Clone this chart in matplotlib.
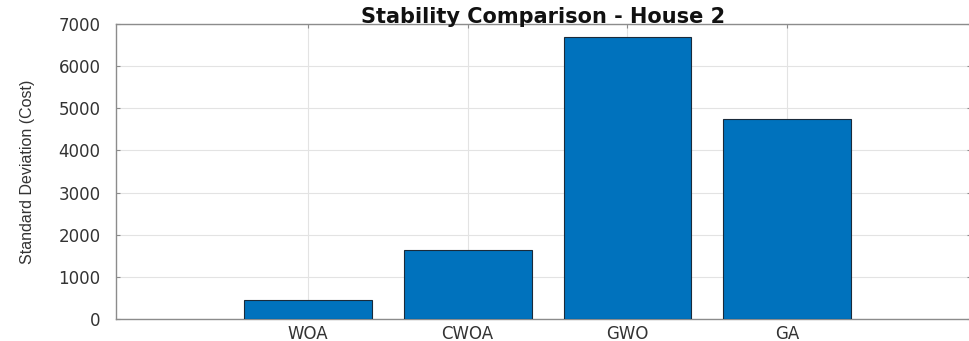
import numpy as np
import matplotlib
matplotlib.use('Agg')
import matplotlib.pyplot as plt

# Standard deviation of the cost per optimiser, house 2
algorithms = ['WOA', 'CWOA', 'GWO', 'GA']
std_cost = [450, 1640, 6700, 4750]
y_ticks = [0, 1000, 2000, 3000, 4000, 5000, 6000, 7000]

bar_color = '#0072BD'
axis_gray = '#8c8c8c'

fig = plt.figure(figsize=(9.69, 3.41), dpi=100)
ax = fig.add_axes([0.1197, 0.0645, 0.8825, 0.8651])

x = np.arange(1, len(algorithms) + 1)
ax.bar(x, std_cost, width=0.8, color=bar_color, edgecolor='#1a2a3a', linewidth=0.8, zorder=3)

ax.set_xlim(-0.2, 5.15)
ax.set_ylim(0, 7000)
ax.set_xticks(x)
ax.set_xticklabels(algorithms)
ax.set_yticks(y_ticks)

ax.grid(True, color='#e3e3e3', linewidth=0.8, zorder=0)
ax.tick_params(direction='in', length=3, color=axis_gray, labelcolor='#333333',
               labelsize=12, top=True, right=True)
ax.tick_params(axis='y', pad=11)
ax.tick_params(axis='x', pad=4)
for lbl in ax.get_xticklabels() + ax.get_yticklabels():
    lbl.set_family('DejaVu Sans')

for side in ax.spines.values():
    side.set_color(axis_gray)
    side.set_linewidth(1.0)

ax.set_ylabel('Standard Deviation (Cost)', fontsize=11.5, family='Liberation Sans',
              color='#333333', labelpad=17)
ax.set_title('Stability Comparison - House 2', fontsize=15, fontweight='bold',
             family='DejaVu Sans', color='#111111', pad=1)

fig.savefig('out.png', dpi=100)
